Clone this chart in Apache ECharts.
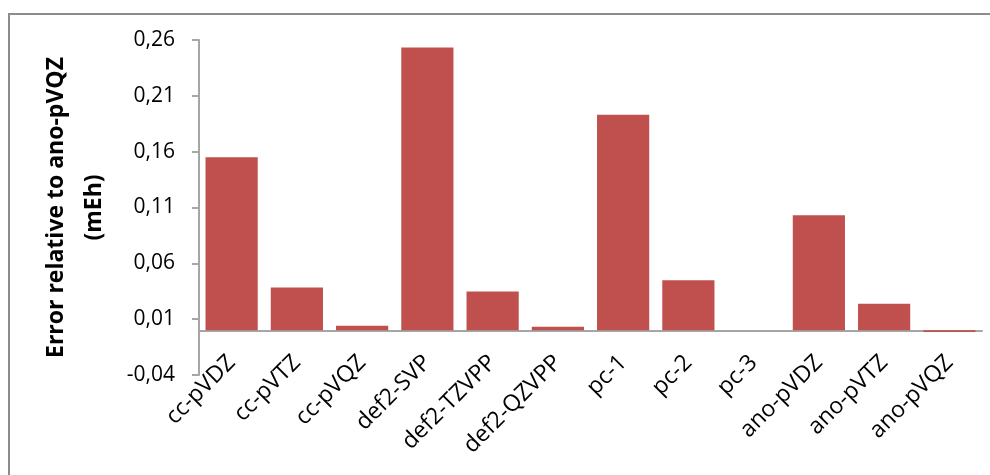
<!DOCTYPE html>
<html>
<head>
<meta charset="utf-8">
<script src="https://cdn.jsdelivr.net/npm/echarts@6/dist/echarts.min.js"></script>
<style>html,body{margin:0;padding:0;background:#fff;}#c{width:990px;height:475px;}</style>
</head>
<body>
<div id="c"></div>
<script>
var categories = ['cc-pVDZ','cc-pVTZ','cc-pVQZ','def2-SVP','def2-TZVPP','def2-QZVPP','pc-1','pc-2','pc-3','ano-pVDZ','ano-pVTZ','ano-pVQZ'];
var errorValues = [0.155, 0.0383, 0.004, 0.2533, 0.0347, 0.0031, 0.193, 0.0449, 0.0, 0.103, 0.0237, -0.0015];
var yTickValues = [-0.04, 0.01, 0.06, 0.11, 0.16, 0.21, 0.26];
var yTitleLine1 = 'Error relative to ano-pVQZ';
var yTitleLine2 = '(mEh)';

var chart = echarts.init(document.getElementById('c'), null, {renderer: 'canvas'});
var font = 'Open Sans';
chart.setOption({
  animation: false,
  backgroundColor: '#ffffff',
  grid: {left: 199, right: 8, top: 40, bottom: 100, containLabel: false},
  graphic: [
    {type: 'rect', shape: {x: 9, y: 14, width: 1000, height: 500}, style: {fill: 'none', stroke: '#8c8c8c', lineWidth: 2}, silent: true, z: -1},
    {type: 'text', x: 56, y: 207.5, rotation: Math.PI / 2, style: {text: yTitleLine1, font: 'bold 23px "Open Sans"', fill: '#000', align: 'center', verticalAlign: 'middle'}},
    {type: 'text', x: 94, y: 207.5, rotation: Math.PI / 2, style: {text: yTitleLine2, font: 'bold 23px "Open Sans"', fill: '#000', align: 'center', verticalAlign: 'middle'}}
  ],
  xAxis: [
    {
      type: 'category', data: categories, position: 'bottom',
      axisLine: {show: false, onZero: false},
      axisTick: {show: false},
      axisLabel: {rotate: 45, margin: -16, padding: [12, 0, 0, 0], fontFamily: font, fontSize: 23, color: '#000', interval: 0}
    },
    {
      type: 'category', data: categories, position: 'bottom',
      axisLine: {show: true, onZero: true, lineStyle: {color: '#a6a6a6', width: 2}},
      axisTick: {show: false},
      axisLabel: {show: false}
    }
  ],
  yAxis: {
    type: 'value', min: -0.04, max: 0.26,
    axisLine: {show: true, lineStyle: {color: '#a6a6a6', width: 2}},
    axisTick: {show: true, inside: false, length: 7, lineStyle: {color: '#a6a6a6', width: 2}, customValues: yTickValues},
    splitLine: {show: false},
    axisLabel: {
      customValues: yTickValues, margin: 24, fontFamily: font, fontSize: 21, color: '#000',
      formatter: function (v) { return v.toFixed(2).replace('.', ','); }
    }
  },
  series: [{
    type: 'bar', data: errorValues, xAxisIndex: 0, barCategoryGap: '20%',
    itemStyle: {color: '#C0504D'}
  }]
});
</script>
</body>
</html>
